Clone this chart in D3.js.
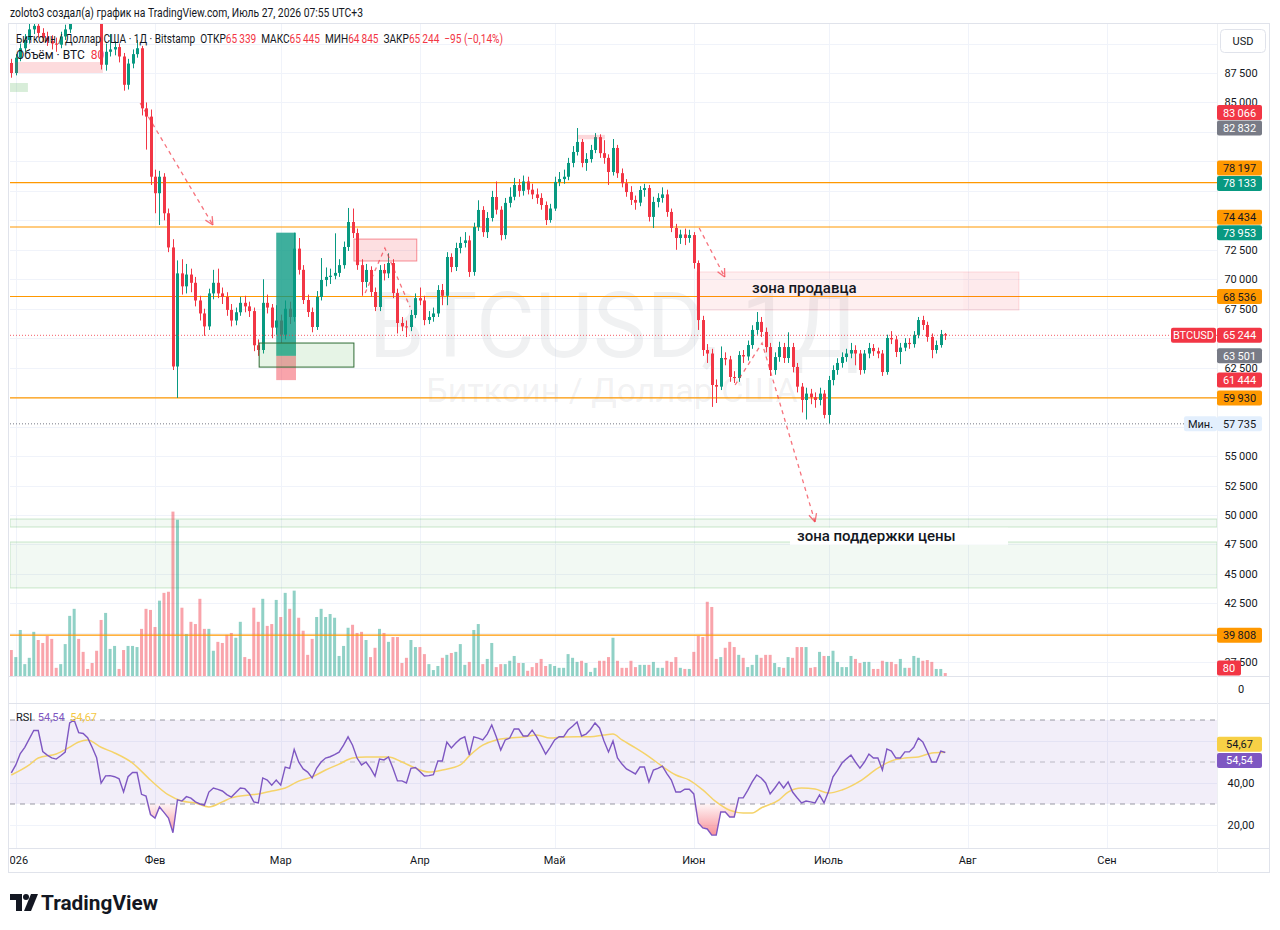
<!DOCTYPE html>
<html>
<head>
<meta charset="utf-8">
<script src="https://d3js.org/d3.v7.min.js"></script>
<style>
  body { margin: 0; background: #fff; }
  text { font-family: Roboto, "Noto Sans", "DejaVu Sans", sans-serif; }
</style>
</head>
<body>
<svg id="chart" width="1280" height="930"></svg>
<script>
// ---------- data (daily candles from 31 Dec 2025 to 27 Jul 2026) ----------
var firstDay = Date.UTC(2025, 11, 31);
var firstOpen = 88350;

var closes = [
  87500, 88800, 89600, 90300, 91200, 91500, 90900, 90500, 90200, 90000,
  89900, 90600, 91200, 92000, 95800, 95400, 95000, 94500, 93200, 92500,
  88200, 89300, 89500, 89700, 88900, 86500, 88300, 89100, 89600, 84500,
  83800, 78700, 77300, 78700, 75600, 72700, 62600, 70500, 69400, 70400,
  69700, 68200, 67100, 66000, 68800, 69700, 68800, 68500, 67400, 66500,
  67200, 68000, 67700, 67300, 64400, 64000, 68000, 67600, 65900, 66500,
  65300, 67500, 66800, 72600, 70800, 68240, 67220, 65950, 68500, 69940,
  70200, 70300, 70540, 71200, 72740, 74860, 73920, 71200, 69770, 70790,
  68920, 67650, 70790, 70500, 71380, 68830, 66290, 66000, 65950, 66970,
  68400, 68200, 66540, 66800, 67100, 69090, 68600, 71890, 71040, 72650,
  73080, 73300, 70620, 74430, 75880, 74000, 75200, 76980, 75900, 73750,
  76480, 77000, 78000, 77500, 78300, 77600, 77200, 76900, 76300, 75030,
  76000, 78260, 78500, 78700, 79870, 80800, 81650, 79870, 80200, 80970,
  82060, 80700, 80300, 79100, 81140, 79000, 78150, 77400, 76730, 76500,
  77570, 77740, 75290, 76560, 76900, 77200, 75710, 74350, 73500, 73800,
  73500, 73750, 71380, 66540, 64000, 63700, 61030, 60890, 63320, 63200,
  61710, 61620, 63570, 63450, 64420, 65700, 66380, 65530, 64250, 62300,
  63400, 64250, 63320, 64250, 62560, 60890, 59760, 60300, 60000, 59760,
  60300, 58490, 61450, 62300, 62900, 63400, 63700, 64000, 63700, 62300,
  63700, 64170, 63900, 63700, 62130, 65020, 64900, 63830, 64200, 64600,
  64500, 65280, 66540, 66120, 65110, 64000, 64420, 65339, 65244
];
var highs = [
  88700, 89100, 90000, 90800, 91700, 92000, 91900, 91300, 91000, 90700,
  90500, 91000, 91600, 92500, 96500, 97500, 96000, 95600, 95000, 93600,
  92800, 90000, 90800, 90200, 90000, 89200, 88700, 89500, 90300, 89800,
  85000, 84400, 79300, 79200, 79000, 76000, 73400, 71600, 71700, 71300,
  70900, 70200, 68600, 67500, 69200, 70800, 70900, 69300, 68900, 67900,
  67600, 68500, 68600, 68100, 67600, 64900, 70000, 68700, 67900, 67800,
  67000, 68200, 68100, 73950, 73500, 71200, 68700, 67600, 69000, 71800,
  71000, 70900, 73900, 71700, 73200, 76050, 76000, 74300, 71700, 71300,
  71100, 69300, 71200, 71300, 72200, 71700, 69200, 66800, 66500, 67400,
  68800, 69300, 68600, 67300, 67600, 69500, 69600, 72300, 72200, 73100,
  73600, 74000, 73700, 74800, 76700, 76200, 75700, 77500, 78300, 76200,
  76900, 77800, 78600, 78500, 78800, 78700, 78100, 77700, 77300, 76600,
  76400, 78700, 79100, 79300, 80300, 81300, 82830, 81900, 80700, 81400,
  82400, 82300, 81800, 80600, 81900, 81400, 79400, 78500, 77900, 77100,
  77900, 78100, 78000, 77000, 77300, 77800, 77600, 76000, 74700, 74200,
  74300, 74200, 74000, 71600, 66900, 64500, 64100, 61500, 64300, 63800,
  63500, 62200, 63900, 64000, 64800, 66100, 67220, 66800, 65900, 64600,
  63800, 64700, 64600, 65500, 64600, 62900, 61200, 60800, 60700, 60400,
  60800, 60600, 61800, 62700, 63300, 63800, 64100, 64600, 64400, 64000,
  64000, 64600, 64500, 64200, 64000, 65300, 65600, 65200, 64600, 65000,
  65000, 65600, 66800, 66900, 66400, 65400, 64800, 65700, 65445
];
var lows = [
  87100, 87300, 88500, 89300, 90000, 90800, 90500, 90100, 89800, 89500,
  89300, 89600, 90300, 90900, 91800, 94900, 94400, 93800, 92800, 92000,
  87800, 87700, 88900, 89000, 88400, 86000, 86100, 87900, 88800, 83900,
  81000, 78000, 75600, 74600, 75000, 72300, 62300, 59930, 68700, 68800,
  68900, 67700, 66500, 65200, 65700, 68300, 68400, 67900, 66900, 66000,
  66100, 66900, 67200, 66800, 63900, 63500, 63700, 67100, 65000, 65300,
  64600, 64900, 66200, 66400, 70400, 67900, 66800, 65500, 65700, 68200,
  69400, 69600, 70000, 70200, 70900, 72400, 73500, 70800, 68600, 69300,
  68500, 67300, 67300, 69900, 70100, 68400, 65400, 65600, 65100, 65600,
  66700, 67800, 66100, 66200, 66400, 66800, 67800, 67800, 70600, 70700,
  72200, 72700, 70200, 70300, 74100, 73600, 73500, 74900, 75500, 73300,
  73400, 76100, 76700, 77000, 77100, 77200, 76800, 76400, 75900, 74600,
  74800, 75800, 77900, 78100, 78400, 79500, 80500, 79500, 79200, 79900,
  80700, 80300, 79800, 78000, 78800, 78600, 77800, 77000, 76300, 75900,
  76200, 77000, 74900, 74350, 76100, 76500, 75300, 74000, 72500, 73000,
  72900, 73100, 70900, 65700, 63500, 62900, 59170, 59500, 60600, 62700,
  61300, 61200, 61300, 62900, 63100, 64100, 65300, 65100, 63800, 61800,
  61900, 63000, 62900, 62900, 62100, 60400, 58700, 58100, 59400, 59100,
  59300, 58200, 57735, 61000, 61900, 62500, 63000, 63300, 62700, 61900,
  62000, 63300, 63500, 63300, 61800, 61900, 64500, 63400, 62800, 63900,
  64100, 64200, 65000, 65700, 64700, 63300, 63700, 64200, 64845
];
var volumes = [
  700, 510, 1240, 320, 490, 1190, 970, 890, 1080, 1000,
  220, 320, 860, 1620, 1810, 1000, 650, 190, 350, 680,
  1510, 1700, 730, 810, 190, 700, 810, 810, 780, 1270,
  1810, 1780, 1320, 2030, 2240, 2270, 4430, 4210, 1840, 1130,
  1460, 1400, 2080, 1270, 1270, 680, 920, 890, 1110, 1160,
  1030, 1460, 510, 460, 1840, 1460, 2080, 1350, 1400, 2050,
  1590, 2240, 1810, 2300, 1570, 1220, 570, 1000, 1590, 1810,
  1590, 1670, 1570, 540, 810, 1300, 1380, 1160, 1190, 970,
  510, 760, 1270, 1160, 920, 1050, 1050, 350, 490, 970,
  780, 780, 590, 320, 160, 270, 490, 570, 620, 650,
  860, 300, 380, 1240, 1400, 320, 460, 890, 240, 320,
  320, 410, 540, 350, 350, 140, 240, 350, 460, 270,
  320, 270, 220, 220, 590, 490, 380, 410, 350, 110,
  220, 410, 410, 510, 1030, 410, 220, 220, 410, 240,
  300, 300, 300, 380, 220, 220, 410, 380, 510, 220,
  190, 190, 650, 1080, 1050, 2000, 1860, 460, 510, 760,
  920, 780, 570, 490, 240, 300, 570, 490, 570, 570,
  350, 240, 220, 510, 490, 780, 780, 780, 220, 240,
  650, 540, 540, 680, 380, 240, 240, 540, 460, 350,
  380, 380, 190, 190, 410, 380, 380, 320, 460, 220,
  220, 540, 490, 410, 430, 380, 190, 190, 80
];
var rsiValues = [
  44.8, 48.6, 54, 57, 61, 65, 65, 55, 53.3, 52,
  51.4, 53, 54.7, 68.6, 70, 64, 63.6, 61.6, 57, 52,
  40, 43.4, 43.5, 43, 42, 35.7, 43, 45, 45, 34.6,
  33.8, 25, 23.3, 28.6, 26, 23.3, 16.3, 32, 31.4, 33.5,
  32.8, 31, 30, 29.5, 35.7, 37.6, 37, 36.2, 34.5, 33.3,
  35.5, 37.6, 37.3, 35, 31, 30.5, 42.4, 41.4, 39, 41.4,
  39, 47.6, 47, 56, 50, 46.7, 45.2, 42.4, 47, 50,
  51.9, 52.5, 53.5, 54.7, 58, 62, 58, 51.9, 48.6, 50,
  47, 43.3, 51.4, 51, 52.4, 47, 41, 41, 40, 47,
  47.4, 45.5, 43.3, 43.5, 44, 50.5, 50.5, 59.5, 56.7, 59,
  61, 62, 53.3, 62, 61.4, 60.5, 63.3, 67.6, 62, 55.7,
  60.5, 61.4, 65.7, 65.7, 62.4, 62.4, 65.2, 62, 58, 53.8,
  57, 60.5, 62, 62, 65.2, 67, 69, 62.4, 63.3, 65.5,
  68.6, 66.2, 60, 54.8, 60, 51.9, 49, 46.7, 45.5, 44.3,
  47.6, 47.6, 40.5, 46.2, 47, 48, 44.5, 41.4, 35.7, 35.7,
  37.1, 37, 34.8, 21, 18.6, 18.1, 15.2, 15.2, 26.2, 26.2,
  23.8, 23.8, 32.9, 32.9, 36.5, 40.5, 43.8, 42.4, 40, 34.8,
  37.5, 40.5, 37.6, 40.5, 35.7, 33, 30.5, 31.4, 31, 30.5,
  34.3, 30.5, 36, 42.9, 46, 49.5, 51.5, 53.3, 50, 47.1,
  50, 53.8, 51.9, 51.9, 46.2, 56.2, 55.2, 51.9, 51.9, 54.8,
  54.8, 57, 61.4, 59.5, 55, 50, 50, 55.2, 54.54
];
// RSI moving average, read at these days (counted from 1 Jan 2026)
var rsiMaDays = [-1, 3, 5, 9, 12, 14, 16, 19, 22, 26, 30, 34, 37, 40, 43, 46, 48, 52, 54, 57,
  60, 63, 66, 69, 72, 75, 78, 83, 86, 89, 92, 95, 99, 101, 104, 107, 110, 113, 116, 119,
  122, 125, 128, 131, 133, 135, 138, 141, 144, 147, 150, 153, 156, 159, 162, 164, 166, 170, 172, 175,
  178, 181, 184, 188, 192, 195, 198, 201, 204, 207];
var rsiMaValues = [43.8, 48.6, 51.9, 53.8, 57.1, 59.5, 60.5, 57, 54.3, 49.5, 41.4, 34.3, 31.4, 30.5, 28.6, 31, 32.9, 34.3, 34.8, 36.2,
  37.6, 40.9, 42.9, 46.2, 49, 51.9, 52.4, 52.4, 50, 47.1, 45.2, 46.2, 48.6, 52.9, 58, 60.5, 61.4, 61.9, 62.9, 61.4,
  61.9, 62, 62, 62.9, 63.3, 60.5, 56.7, 52.6, 47.9, 43.8, 41.4, 36.7, 31, 27, 25.7, 25.7, 28.1, 32, 35.7, 37.6,
  37.1, 35.2, 36.7, 40.9, 47.1, 50.5, 51.9, 52.4, 54.3, 54.67];

var levelPrices = [78197, 74434, 68536, 59930, 39808];
var priceTicks = [37500, 40000, 42500, 45000, 47500, 50000, 52500, 55000, 57500, 60000, 62500,
  65000, 67500, 70000, 72500, 75000, 77500, 80000, 82500, 85000, 87500, 90000];
var monthLabels = ["2026", "Фев", "Мар", "Апр", "Май", "Июн", "Июль", "Авг", "Сен"];
var tagValues = [83066, 82832, 78197, 78133, 74434, 73953, 68536, 65244, 63501, 61444, 59930, 57735, 39808];
var tagKinds = ["red", "grey", "orange", "teal", "orange", "teal", "orange", "red", "grey", "red", "orange", "min", "orange"];
var legendOHLC = [65339, 65445, 64845, 65244];
var legendChange = "\u221295 (\u22120,14%)";
var lastPrice = 65244, minPrice = 57735, lastVolume = 80;
var rsiLast = 54.54, rsiMaLast = 54.67;

// drawings: [day from 1 Jan 2026, price]
var sellerZone = [151.7, 223.4, 67390, 70620];
var supportBands = [[48980, 49660], [43810, 47710]];
var longTool = [58, 62.4, 73953, 63501, 61444];
var boxes = [
  { d: [54.2, 75.3], p: [62550, 64590], fill: "rgba(76,175,80,0.14)", stroke: "#2e6b34" },
  { d: [75.3, 89.3], p: [71550, 73410], fill: "rgba(242,54,69,0.16)", stroke: "rgba(242,54,69,0.55)" },
  { d: [-0.2, 19.4], p: [87500, 88430], fill: "rgba(242,54,69,0.18)", stroke: "none" },
  { d: [-1.7, 2.7], p: [85890, 86650], fill: "rgba(76,175,80,0.22)", stroke: "none" },
  { d: [125.2, 131.2], p: [81880, 82250], fill: "rgba(242,54,69,0.2)", stroke: "none" }
];
var arrows = [
  { pts: [[27.7, 84950], [43.9, 74600]], head: true },
  { pts: [[77.8, 68830], [82.2, 72650], [87.8, 67650]], head: false },
  { pts: [[152.2, 74350], [157.9, 70190]], head: true },
  { pts: [[160.2, 61030], [166.2, 64590], [178, 49410]], head: true }
];

// ---------- layout ----------
var L = 10, R = 1217, mainTop = 24, mainBot = 676, rsiTop = 703, rsiBot = 848;
var up = "#089981", down = "#f23645", orange = "#ff9800";

var svg = d3.select("#chart");
var day0 = Date.UTC(2026, 0, 1);
function dayDate(d) { return new Date(day0 + d * 864e5); }

var x = d3.scaleUtc().domain([dayDate(0), dayDate(243)]).range([15.8, 1106.9]);
var y = d3.scaleLinear().domain([50000, 87500]).range([515, 73]);
var yVol = d3.scaleLinear().domain([0, 4500]).range([676, 509]);
var yR = d3.scaleLinear().domain([20, 70]).range([825, 720]);
function xd(d) { return x(dayDate(d)); }

var loc = d3.formatLocale({ decimal: ",", thousands: "\u2009", grouping: [3], currency: ["", ""] });
var fInt = loc.format(",d"), f2 = loc.format(",.2f");

var candles = closes.map(function(c, i) {
  return { date: new Date(firstDay + i * 864e5), o: i ? closes[i - 1] : firstOpen,
           h: highs[i], l: lows[i], c: c, v: volumes[i] };
});
var rsi = rsiValues.map(function(v, i) { return { date: new Date(firstDay + i * 864e5), v: v }; });
var rsiMa = rsiMaDays.map(function(d, i) { return { date: dayDate(d), v: rsiMaValues[i] }; });

var defs = svg.append("defs");
defs.append("clipPath").attr("id", "clipMain").append("rect")
  .attr("x", L).attr("y", mainTop).attr("width", R - L).attr("height", mainBot - mainTop);
defs.append("clipPath").attr("id", "clipRsi").append("rect")
  .attr("x", L).attr("y", rsiTop).attr("width", R - L).attr("height", rsiBot - rsiTop);
defs.append("clipPath").attr("id", "clipAxis").append("rect")
  .attr("x", L).attr("y", rsiBot).attr("width", R - L).attr("height", 25);
var gOs = defs.append("linearGradient").attr("id", "osFill").attr("gradientUnits", "userSpaceOnUse")
  .attr("x1", 0).attr("x2", 0).attr("y1", yR(30)).attr("y2", yR(15));
gOs.append("stop").attr("offset", 0).attr("stop-color", "rgba(242,54,69,0.05)");
gOs.append("stop").attr("offset", 1).attr("stop-color", "rgba(242,54,69,0.55)");

svg.append("rect").attr("width", 1280).attr("height", 930).attr("fill", "#fff");

// frame and panes
svg.append("rect").attr("x", 8.5).attr("y", mainTop - 0.5).attr("width", 1261).attr("height", 873 - mainTop)
  .attr("fill", "none").attr("stroke", "#e0e3eb");

// grid
var grid = svg.append("g");
grid.selectAll(".hg").data(priceTicks).enter().append("line")
  .attr("x1", L).attr("x2", R).attr("y1", function(d) { return Math.round(y(d)) + 0.5; })
  .attr("y2", function(d) { return Math.round(y(d)) + 0.5; })
  .attr("stroke", "#f0f3fa").attr("clip-path", "url(#clipMain)");
var months = d3.utcMonth.range(dayDate(0), dayDate(244));
grid.selectAll(".vg").data(months).enter().append("line")
  .attr("x1", function(d) { return Math.round(x(d)) + 0.5; }).attr("x2", function(d) { return Math.round(x(d)) + 0.5; })
  .attr("y1", mainTop).attr("y2", rsiBot).attr("stroke", "#f0f3fa");
grid.selectAll(".rg").data([60, 40, 20]).enter().append("line")
  .attr("x1", L).attr("x2", R).attr("y1", function(d) { return Math.round(yR(d)) + 0.5; })
  .attr("y2", function(d) { return Math.round(yR(d)) + 0.5; }).attr("stroke", "#f0f3fa");
svg.selectAll(".sep").data([mainBot, rsiTop, rsiBot]).enter().append("line")
  .attr("x1", 8.5).attr("x2", 1270).attr("y1", function(d) { return d + 0.5; }).attr("y2", function(d) { return d + 0.5; })
  .attr("stroke", "#e0e3eb");
svg.append("line").attr("x1", R + 0.5).attr("x2", R + 0.5).attr("y1", mainTop).attr("y2", 873).attr("stroke", "#eef0f3");

// watermark
var wm = svg.append("g").attr("fill", "rgba(120,123,134,0.11)").attr("text-anchor", "middle");
wm.append("text").attr("x", 614).attr("y", 357).attr("font-size", 90).text("BTCUSD, 1Д");
wm.append("text").attr("x", 612).attr("y", 402).attr("font-size", 34).text("Биткоин / Доллар США");

var main = svg.append("g").attr("clip-path", "url(#clipMain)");

// support zones
supportBands.forEach(function(b) {
  main.append("rect").attr("x", L).attr("width", R - L)
    .attr("y", y(b[1])).attr("height", y(b[0]) - y(b[1]))
    .attr("fill", "rgba(76,175,80,0.07)").attr("stroke", "rgba(76,175,80,0.28)");
});

// volume
main.append("g").selectAll("rect").data(candles).enter().append("rect")
  .attr("x", function(d) { return x(d.date) - 1.5; }).attr("width", 3)
  .attr("y", function(d) { return yVol(d.v); })
  .attr("height", function(d) { return yVol(0) - yVol(d.v); })
  .attr("fill", function(d) { return d.c >= d.o ? "rgba(8,153,129,0.45)" : "rgba(242,54,69,0.45)"; });

// horizontal levels
main.selectAll(".lvl").data(levelPrices).enter().append("line")
  .attr("x1", L).attr("x2", R).attr("y1", function(d) { return y(d); }).attr("y2", function(d) { return y(d); })
  .attr("stroke", orange).attr("stroke-width", 1.2);

// candles
var cg = main.append("g");
cg.selectAll(".wick").data(candles).enter().append("line")
  .attr("x1", function(d) { return Math.round(x(d.date)) + 0.5; })
  .attr("x2", function(d) { return Math.round(x(d.date)) + 0.5; })
  .attr("y1", function(d) { return y(d.h); }).attr("y2", function(d) { return y(d.l); })
  .attr("stroke", function(d) { return d.c >= d.o ? up : down; });
cg.selectAll(".body").data(candles).enter().append("rect")
  .attr("x", function(d) { return Math.round(x(d.date)) - 1; }).attr("width", 3)
  .attr("y", function(d) { return y(Math.max(d.o, d.c)); })
  .attr("height", function(d) { return Math.max(1, Math.abs(y(d.o) - y(d.c))); })
  .attr("fill", function(d) { return d.c >= d.o ? up : down; });

// long position tool
main.append("rect").attr("x", xd(longTool[0])).attr("width", xd(longTool[1]) - xd(longTool[0]))
  .attr("y", y(longTool[2])).attr("height", y(longTool[3]) - y(longTool[2]))
  .attr("fill", up).attr("opacity", 0.78);
main.append("rect").attr("x", xd(longTool[0])).attr("width", xd(longTool[1]) - xd(longTool[0]))
  .attr("y", y(longTool[3])).attr("height", y(longTool[4]) - y(longTool[3]))
  .attr("fill", down).attr("opacity", 0.45);

// boxes
boxes.forEach(function(b) {
  main.append("rect").attr("x", xd(b.d[0])).attr("width", xd(b.d[1]) - xd(b.d[0]))
    .attr("y", y(b.p[1])).attr("height", y(b.p[0]) - y(b.p[1]))
    .attr("fill", b.fill).attr("stroke", b.stroke);
});

// seller zone
main.append("rect").attr("x", xd(sellerZone[0])).attr("width", xd(sellerZone[1]) - xd(sellerZone[0]))
  .attr("y", y(sellerZone[3])).attr("height", y(sellerZone[2]) - y(sellerZone[3]))
  .attr("fill", "rgba(242,54,69,0.08)").attr("stroke", "rgba(242,54,69,0.16)");
main.append("rect").attr("x", xd(211)).attr("width", xd(sellerZone[1]) - xd(211))
  .attr("y", y(sellerZone[3])).attr("height", y(sellerZone[2]) - y(sellerZone[3]))
  .attr("fill", "rgba(242,54,69,0.025)");

// price lines
main.append("line").attr("x1", L).attr("x2", R).attr("y1", y(lastPrice)).attr("y2", y(lastPrice))
  .attr("stroke", down).attr("stroke-dasharray", "1,2").attr("opacity", 0.8);
main.append("line").attr("x1", L).attr("x2", R).attr("y1", y(minPrice)).attr("y2", y(minPrice))
  .attr("stroke", "#787b86").attr("stroke-dasharray", "1,2");

// dashed arrows
var lineGen = d3.line().x(function(p) { return xd(p[0]); }).y(function(p) { return y(p[1]); });
arrows.forEach(function(a) {
  main.append("path").attr("d", lineGen(a.pts)).attr("fill", "none")
    .attr("stroke", "rgba(242,54,69,0.7)").attr("stroke-width", 1.3).attr("stroke-dasharray", "4,4");
  if (a.head) {
    var p1 = a.pts[a.pts.length - 2], p2 = a.pts[a.pts.length - 1];
    var x1 = xd(p1[0]), y1 = y(p1[1]), x2 = xd(p2[0]), y2 = y(p2[1]);
    var ang = Math.atan2(y2 - y1, x2 - x1);
    [-0.45, 0.45].forEach(function(da) {
      main.append("line").attr("x1", x2).attr("y1", y2)
        .attr("x2", x2 - 9 * Math.cos(ang + da)).attr("y2", y2 - 9 * Math.sin(ang + da))
        .attr("stroke", "rgba(242,54,69,0.7)").attr("stroke-width", 1.3);
    });
  }
});

// zone labels
main.append("text").attr("x", 752).attr("y", y(69250) + 5).attr("font-size", 15).attr("font-weight", 500)
  .attr("fill", "#131722").text("зона продавца");
main.append("rect").attr("x", 790).attr("y", y(49000) + 1).attr("width", 218).attr("height", 17).attr("fill", "#fff");
main.append("text").attr("x", 797).attr("y", y(49000) + 14).attr("font-size", 15).attr("font-weight", 500)
  .attr("fill", "#131722").text("зона поддержки цены");

// ---------- RSI pane ----------
var rg = svg.append("g").attr("clip-path", "url(#clipRsi)");
rg.append("rect").attr("x", L).attr("width", R - L).attr("y", yR(70)).attr("height", yR(30) - yR(70))
  .attr("fill", "rgba(126,87,194,0.1)");
rg.selectAll(".rd").data([70, 50, 30]).enter().append("line")
  .attr("x1", L).attr("x2", R).attr("y1", function(d) { return yR(d); }).attr("y2", function(d) { return yR(d); })
  .attr("stroke", "#787b86").attr("stroke-dasharray", "5,5")
  .attr("opacity", function(d) { return d === 50 ? 0.45 : 0.75; });
rg.append("path").datum(rsi)
  .attr("d", d3.area().x(function(d) { return x(d.date); }).y0(yR(30))
    .y1(function(d) { return yR(Math.min(d.v, 30)); }))
  .attr("fill", "url(#osFill)");
rg.append("path").datum(rsiMa)
  .attr("d", d3.line().curve(d3.curveMonotoneX).x(function(d) { return x(d.date); }).y(function(d) { return yR(d.v); }))
  .attr("fill", "none").attr("stroke", "#f5d36a").attr("stroke-width", 1.5);
rg.append("path").datum(rsi)
  .attr("d", d3.line().x(function(d) { return x(d.date); }).y(function(d) { return yR(d.v); }))
  .attr("fill", "none").attr("stroke", "#7e57c2").attr("stroke-width", 1.4);

// ---------- price axis ----------
var kindStyle = {
  red: [down, "#fff"], grey: ["#787b86", "#fff"], orange: [orange, "#131722"],
  teal: [up, "#fff"], min: ["#e3effd", "#131722"]
};
var tags = tagValues.map(function(v, i) { return { v: v, kind: tagKinds[i], yc: y(v) }; })
  .sort(function(a, b) { return b.yc - a.yc; });
var lastY = Infinity;
tags.forEach(function(t) { t.yc = Math.min(t.yc, lastY - 15.5); lastY = t.yc; });
// tick labels hidden behind a price tag or the USD button are not drawn
var blocked = tags.map(function(t) { return t.yc; }).concat([41]);
var shownTicks = priceTicks.filter(function(p) {
  return blocked.every(function(b) { return Math.abs(b - y(p)) > 10; });
});

var ax = svg.append("g").attr("font-size", 11).attr("text-anchor", "middle");
ax.selectAll(".pt").data(shownTicks).enter().append("text")
  .attr("x", 1241).attr("y", function(d) { return y(d) + 4; }).attr("fill", "#131722")
  .text(function(d) { return fInt(d); });
ax.append("text").attr("x", 1241).attr("y", 693).attr("fill", "#131722").text("0");
ax.selectAll(".rt").data([40, 20]).enter().append("text")
  .attr("x", 1241).attr("y", function(d) { return yR(d) + 4; }).attr("fill", "#131722")
  .text(function(d) { return f2(d); });

// USD button
svg.append("rect").attr("x", 1220.5).attr("y", 29.5).attr("width", 45).attr("height", 23).attr("rx", 4)
  .attr("fill", "#fff").attr("stroke", "#e0e3eb");
svg.append("text").attr("x", 1243).attr("y", 45).attr("font-size", 11).attr("text-anchor", "middle")
  .attr("fill", "#131722").text("USD");

function tag(yc, label, bg, fg, x0, w) {
  svg.append("rect").attr("x", x0).attr("y", yc - 7.5).attr("width", w).attr("height", 15).attr("rx", 2).attr("fill", bg);
  svg.append("text").attr("x", x0 + w / 2).attr("y", yc + 4).attr("font-size", 11).attr("text-anchor", "middle")
    .attr("fill", fg).text(label);
}
tags.forEach(function(t) {
  var st = kindStyle[t.kind];
  tag(t.yc, fInt(t.v), st[0], st[1], 1217, 45);
  if (t.v === lastPrice) tag(t.yc, "BTCUSD", down, "#fff", 1171, 45);
  if (t.kind === "min") tag(t.yc, "Мин.", st[0], st[1], 1184, 33);
});
tag(Math.min(yVol(lastVolume), mainBot - 8), fInt(lastVolume), down, "#fff", 1217, 24);
tag(yR(rsiMaLast) - 8, f2(rsiMaLast), "#f7d046", "#131722", 1217, 45);
tag(yR(rsiLast) + 8, f2(rsiLast), "#7e57c2", "#fff", 1217, 45);

// ---------- time axis ----------
svg.append("g").attr("clip-path", "url(#clipAxis)").selectAll("text").data(months).enter().append("text")
  .attr("x", function(d) { return x(d); }).attr("y", 864).attr("font-size", 11).attr("text-anchor", "middle")
  .attr("fill", "#131722").text(function(d, i) { return monthLabels[i]; });

// ---------- legends ----------
svg.append("text").attr("x", 10).attr("y", 17).attr("font-size", 12).attr("fill", "#131722")
  .attr("textLength", 353).attr("lengthAdjust", "spacingAndGlyphs")
  .text("zoloto3 создал(а) график на TradingView.com, Июль 27, 2026 07:55 UTC+3");
var lg = svg.append("text").attr("x", 16).attr("y", 43).attr("font-size", 12).attr("fill", "#131722")
  .attr("textLength", 487).attr("lengthAdjust", "spacingAndGlyphs").style("white-space", "pre");
var parts = [["Биткоин / Доллар США · 1Д · Bitstamp  ОТКР", "#131722"], [fInt(legendOHLC[0]), down],
  ["  МАКС", "#131722"], [fInt(legendOHLC[1]), down], ["  МИН", "#131722"], [fInt(legendOHLC[2]), down],
  ["  ЗАКР", "#131722"], [fInt(legendOHLC[3]), down], ["  " + legendChange, down]];
parts.forEach(function(p) { lg.append("tspan").attr("fill", p[1]).text(p[0]); });
var vl = svg.append("text").attr("x", 16).attr("y", 59).attr("font-size", 12).style("white-space", "pre");
vl.append("tspan").attr("fill", "#131722").text("Объём · BTC  ");
vl.append("tspan").attr("fill", down).text(fInt(lastVolume));

var rl = svg.append("text").attr("x", 16).attr("y", 721).attr("font-size", 11).style("white-space", "pre");
rl.append("tspan").attr("fill", "#131722").text("RSI  ");
rl.append("tspan").attr("fill", "#7e57c2").text(f2(rsiLast) + "  ");
rl.append("tspan").attr("fill", "#f5c842").text(f2(rsiMaLast));

// ---------- logo ----------
var logo = svg.append("g").attr("fill", "#131722");
logo.append("path").attr("d", "M10,894 h12 v17 h-6 v-11 h-6 z");
logo.append("circle").attr("cx", 26).attr("cy", 897).attr("r", 3);
logo.append("path").attr("d", "M31,894 h7 l-7,17 h-7 z");
logo.append("text").attr("x", 41).attr("y", 910).attr("font-size", 20).attr("font-weight", 700)
  .attr("textLength", 117).attr("lengthAdjust", "spacingAndGlyphs").text("TradingView");
</script>
</body>
</html>
